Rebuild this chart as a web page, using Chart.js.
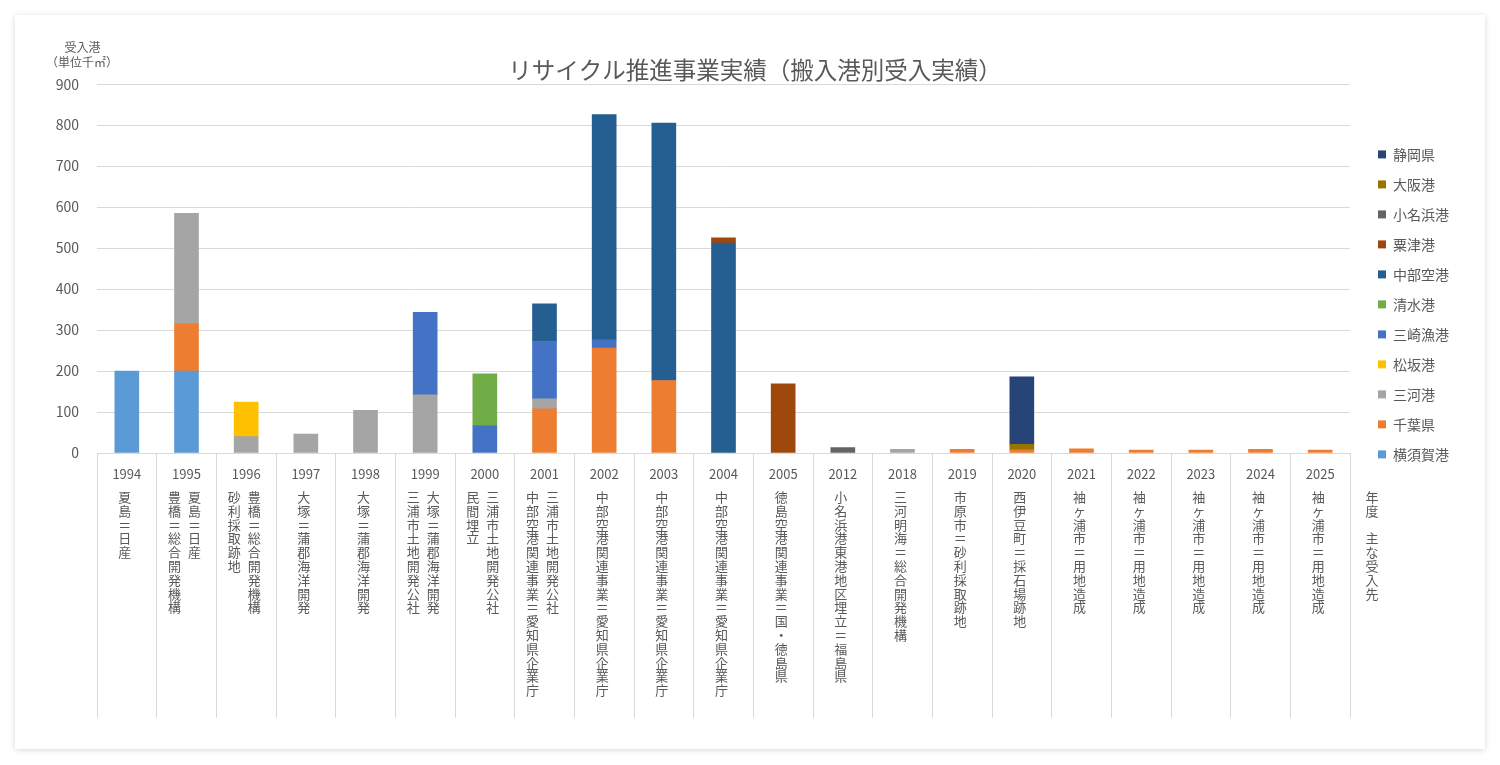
<!DOCTYPE html>
<html lang="ja">
<head>
<meta charset="utf-8">
<script src="https://cdn.jsdelivr.net/npm/chart.js@4.4.1/dist/chart.umd.min.js"></script>
<style>
  body { margin: 0; background: #fff; }
  .card { position: absolute; left: 15px; top: 15px; width: 1470px; height: 734px; background: #fff; box-shadow: 0 1px 6px rgba(0,0,0,0.16); }
  canvas { display: block; }
</style>
</head>
<body>
<div class="card"><canvas id="chart" width="1470" height="734"></canvas></div>
<script>
// 年度
const years = ['1994','1995','1996','1997','1998','1999','2000','2001','2002','2003','2004',
  '2005','2012','2018','2019','2020','2021','2022','2023','2024','2025'];

// 主な受入先 (縦書き、右の列から)
const destinations = [
  ['夏島＝日産'],
  ['夏島＝日産', '豊橋＝総合開発機構'],
  ['豊橋＝総合開発機構', '砂利採取跡地'],
  ['大塚＝蒲郡海洋開発'],
  ['大塚＝蒲郡海洋開発'],
  ['大塚＝蒲郡海洋開発', '三浦市土地開発公社'],
  ['三浦市土地開発公社', '民間埋立'],
  ['三浦市土地開発公社', '中部空港関連事業＝愛知県企業庁'],
  ['中部空港関連事業＝愛知県企業庁'],
  ['中部空港関連事業＝愛知県企業庁'],
  ['中部空港関連事業＝愛知県企業庁'],
  ['徳島空港関連事業＝国・徳島県'],
  ['小名浜港東港地区埋立＝福島県'],
  ['三河明海＝総合開発機構'],
  ['市原市＝砂利採取跡地'],
  ['西伊豆町＝採石場跡地'],
  ['袖ヶ浦市＝用地造成'],
  ['袖ヶ浦市＝用地造成'],
  ['袖ヶ浦市＝用地造成'],
  ['袖ヶ浦市＝用地造成'],
  ['袖ヶ浦市＝用地造成']
];

// 受入実績 (千㎡)
const yokosuka  = [200,200,null,null,null,null,null,null,null,null,null,null,null,null,null,null,null,null,null,null,null];
const chiba     = [null,115,null,null,null,null,null,108,256,177,null,null,null,null,9,8,10,7,7,9,7];
const mikawa    = [null,270,40,46,104,142,null,24,null,null,null,null,null,9,null,null,null,null,null,null,null];
const matsusaka = [null,null,84,null,null,null,null,null,null,null,null,null,null,null,null,null,null,null,null,null,null];
const misaki    = [null,null,null,null,null,201,67,140,20,null,null,null,null,null,null,null,null,null,null,null,null];
const shimizu   = [null,null,null,null,null,null,126,null,null,null,null,null,null,null,null,null,null,null,null,null,null];
const chubu     = [null,null,null,null,null,null,null,92,550,628,512,null,null,null,null,null,null,null,null,null,null];
const awazu     = [null,null,null,null,null,null,null,null,null,null,13,169,null,null,null,null,null,null,null,null,null];
const onahama   = [null,null,null,null,null,null,null,null,null,null,null,null,13,null,null,null,null,null,null,null,null];
const osaka     = [null,null,null,null,null,null,null,null,null,null,null,null,null,null,null,13,null,null,null,null,null];
const shizuoka  = [null,null,null,null,null,null,null,null,null,null,null,null,null,null,null,165,null,null,null,null,null];

const portNames  = ['横須賀港','千葉県','三河港','松坂港','三崎漁港','清水港','中部空港','粟津港','小名浜港','大阪港','静岡県'];
const portValues = [yokosuka, chiba, mikawa, matsusaka, misaki, shimizu, chubu, awazu, onahama, osaka, shizuoka];
const portColors = ['#5B9BD5','#ED7D31','#A5A5A5','#FFC000','#4472C4','#70AD47','#255E91','#9E480E','#636363','#997300','#264478'];

const yTicks = [0,100,200,300,400,500,600,700,800,900];

const textGray = '#595959';
const gridGray = '#d9d9d9';
const jpFont = '"Noto Sans CJK JP", "Noto Sans", sans-serif';

// 縦書きラベル・軸タイトル
const verticalLabels = {
  id: 'verticalLabels',
  afterDraw(chart) {
    const {ctx, scales: {x}, chartArea} = chart;
    const top = 482, step = 13.8;
    ctx.save();
    ctx.fillStyle = textGray;
    ctx.textAlign = 'center';
    ctx.textBaseline = 'middle';
    ctx.font = '13px ' + jpFont;
    destinations.forEach((cols, i) => {
      const cx = x.getPixelForValue(i);
      const offsets = cols.length === 1 ? [-2] : [8, -12];
      cols.forEach((text, c) => {
        [...text].forEach((ch, k) => ctx.fillText(ch, cx + offsets[c], top + k * step));
      });
    });
    [...'年度　主な受入先'].forEach((ch, k) => ctx.fillText(ch, chartArea.right + 22, top + k * step));

    ctx.font = '12px ' + jpFont;
    ctx.fillText('受入港', 67.5, 32);
    ctx.fillText('（単位千㎡）', 67, 47);
    ctx.restore();
  }
};

new Chart(document.getElementById('chart'), {
  type: 'bar',
  data: {
    labels: years,
    datasets: portNames.map((name, i) => ({
      label: name,
      data: portValues[i],
      backgroundColor: portColors[i],
      borderWidth: 0,
      barThickness: 24
    }))
  },
  options: {
    responsive: false,
    animation: false,
    layout: { padding: { top: 41, right: 26, bottom: 31, left: 36 } },
    scales: {
      x: {
        stacked: true,
        afterFit: (scale) => { scale.height = 265; },
        grid: { offset: true, drawOnChartArea: false, drawTicks: true, tickLength: 265, color: gridGray, lineWidth: 1 },
        border: { display: true, color: gridGray, width: 1 },
        ticks: {
          autoSkip: false, maxRotation: 0, padding: -252,
          color: textGray, font: { family: jpFont, size: 13 }
        }
      },
      y: {
        stacked: true,
        min: 0, max: 900,
        afterFit: (scale) => { scale.width = 46; },
        afterBuildTicks: (scale) => { scale.ticks = yTicks.map(v => ({ value: v })); },
        grid: { color: gridGray, lineWidth: 1, drawTicks: false },
        border: { display: false },
        ticks: { padding: 18, color: textGray, font: { family: jpFont, size: 14 } }
      },
      gap: {
        position: 'right',
        display: true,
        afterFit: (scale) => { scale.width = 12; },
        grid: { display: false },
        border: { display: false },
        ticks: { display: false }
      }
    },
    plugins: {
      title: {
        display: true,
        text: 'リサイクル推進事業実績（搬入港別受入実績）',
        color: textGray,
        font: { family: jpFont, size: 23.5, weight: 'normal' },
        padding: { top: 0, bottom: 0 }
      },
      legend: {
        position: 'right',
        align: 'start',
        reverse: true,
        title: { display: true, text: '', padding: { top: 61, bottom: 0 } },
        labels: {
          boxWidth: 8, boxHeight: 8, padding: 16,
          color: textGray, font: { family: jpFont, size: 14 }
        }
      },
      tooltip: { enabled: false }
    }
  },
  plugins: [verticalLabels]
});
</script>
</body>
</html>
